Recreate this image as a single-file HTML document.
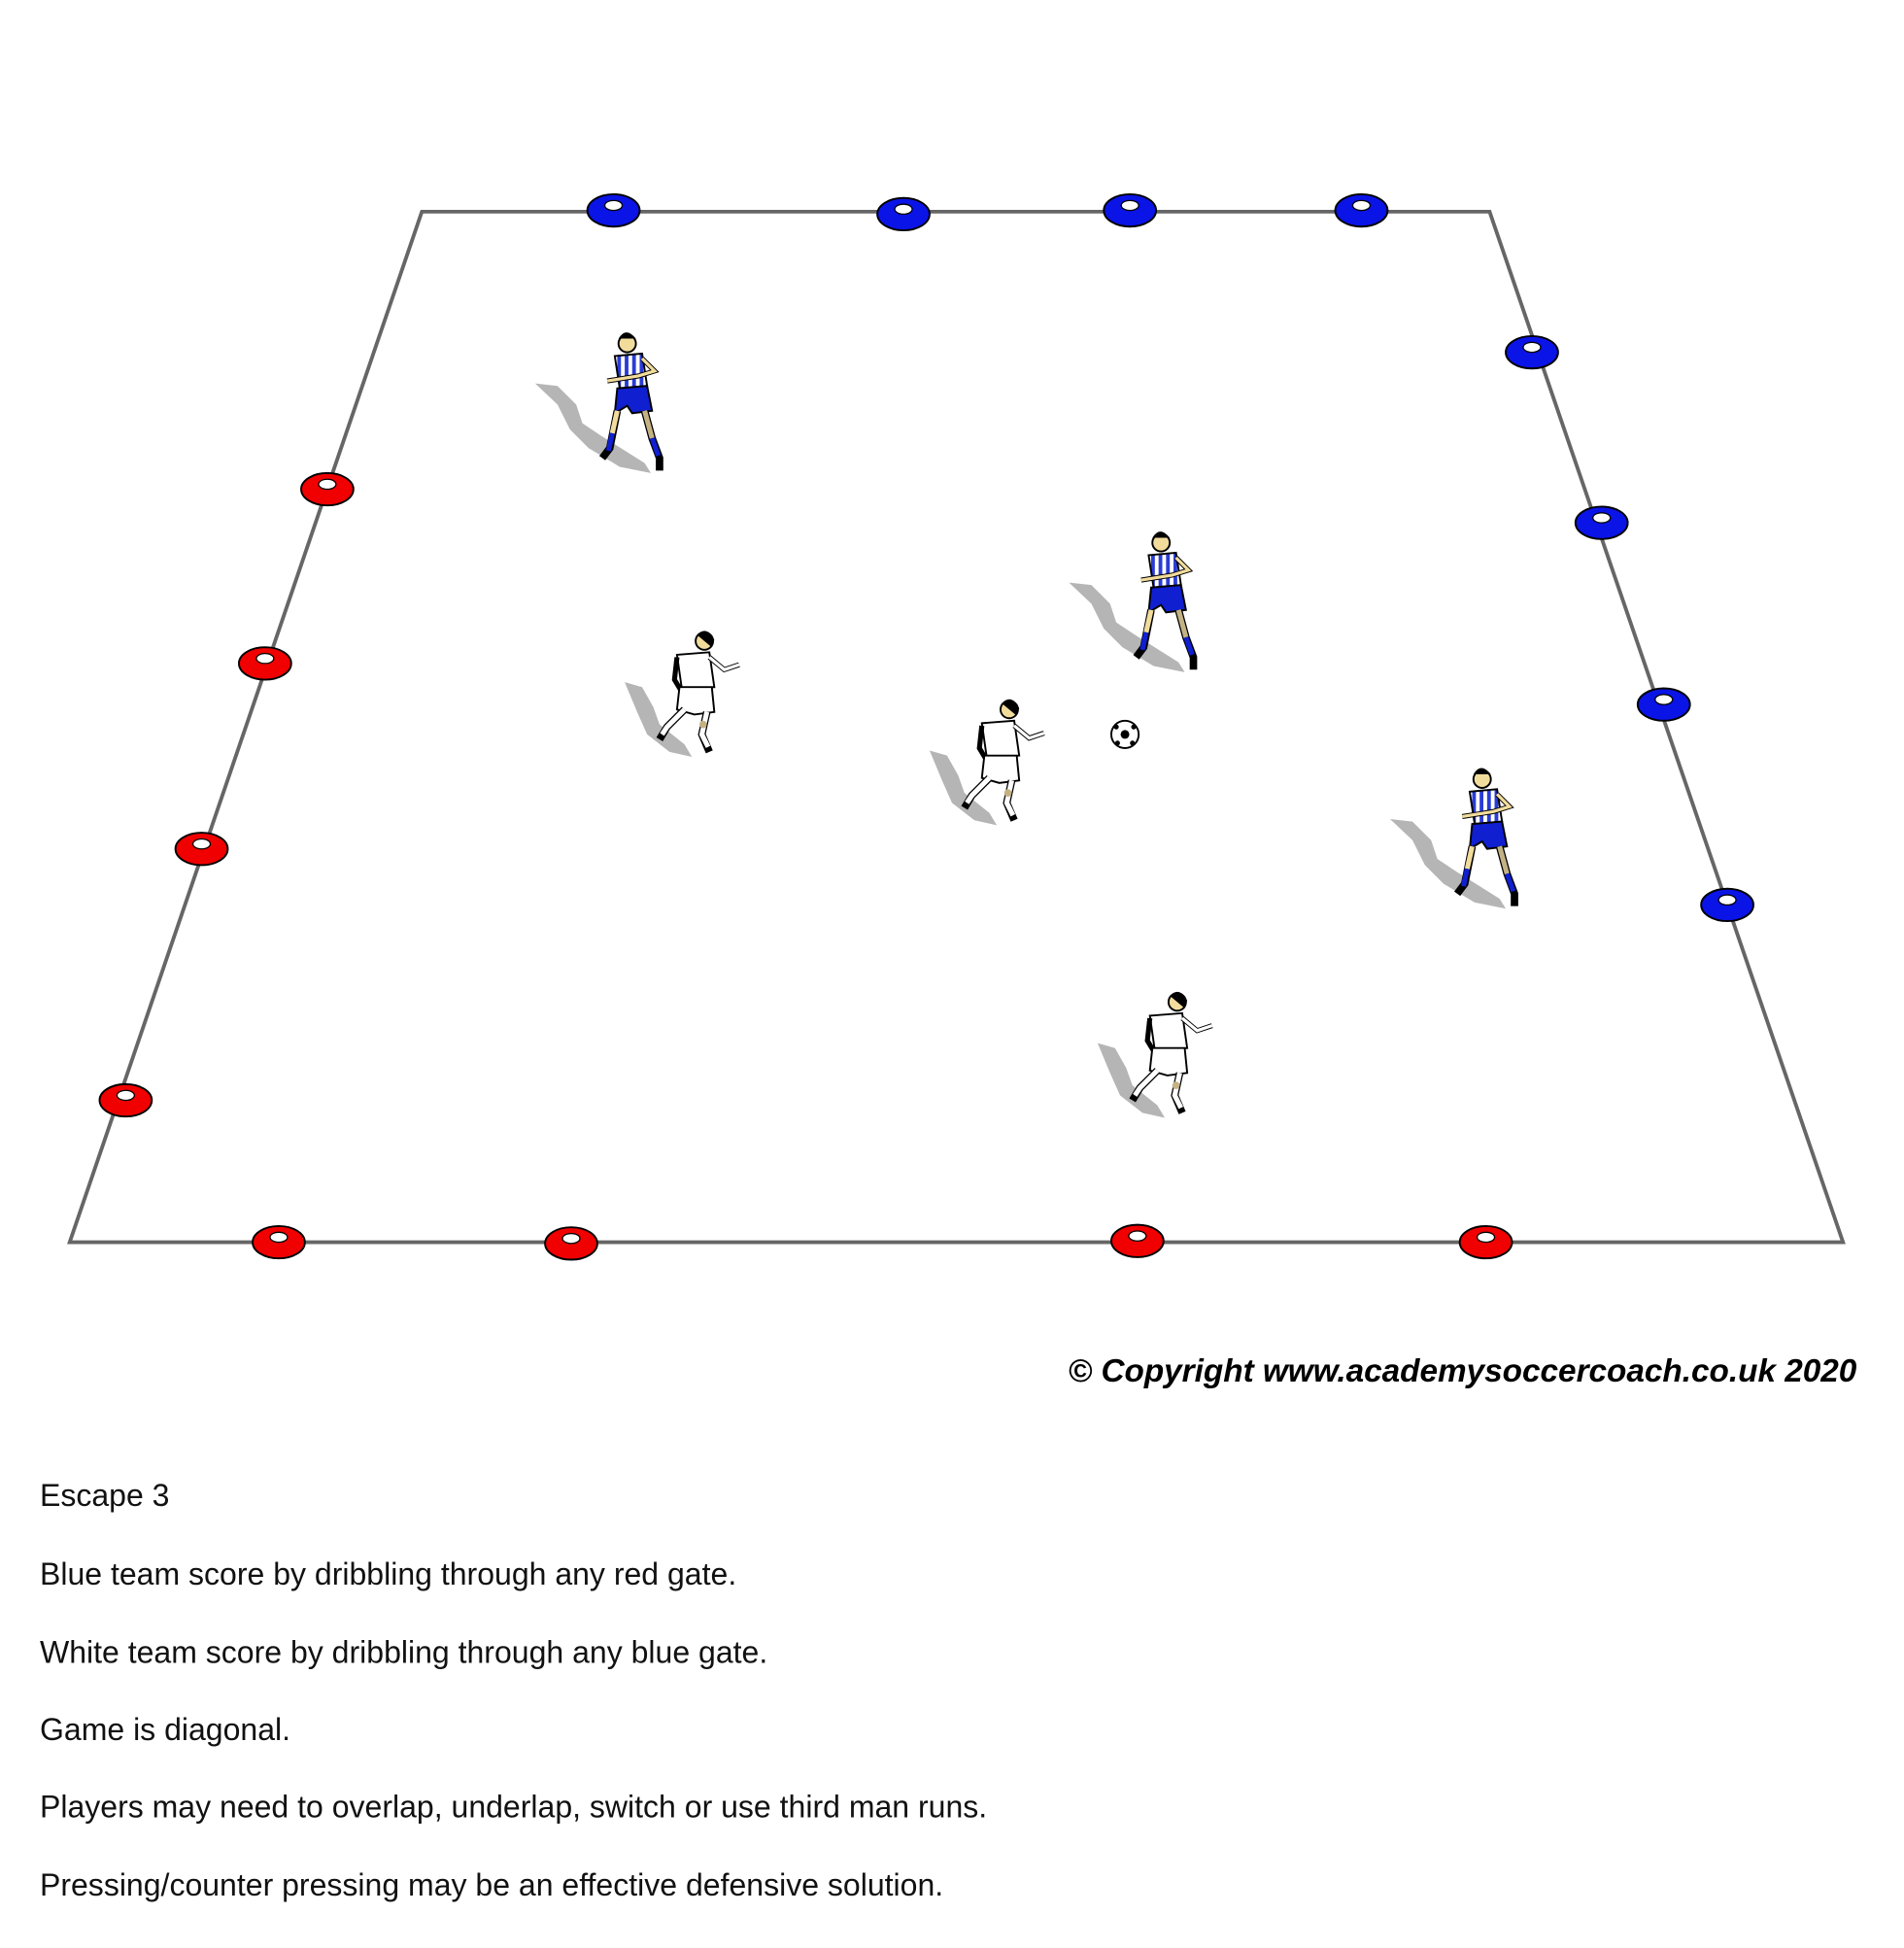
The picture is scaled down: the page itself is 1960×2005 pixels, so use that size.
<!DOCTYPE html>
<html><head><meta charset="utf-8"><style>
html,body{margin:0;padding:0;background:#fff;}
svg{display:block;}
</style></head><body>
<svg width="1960" height="2005" viewBox="0 0 1530 1565" xmlns="http://www.w3.org/2000/svg">
<defs>
<g id="cb"><ellipse cx="0" cy="0" rx="21" ry="13" fill="#0a14e6" stroke="#000" stroke-width="1.5"/><ellipse cx="0" cy="-4" rx="7" ry="4" fill="#fff" stroke="#000" stroke-width="1"/></g>
<g id="cr"><ellipse cx="0" cy="0" rx="21" ry="13" fill="#f00000" stroke="#000" stroke-width="1.5"/><ellipse cx="0" cy="-4" rx="7" ry="4" fill="#fff" stroke="#000" stroke-width="1"/></g>
<pattern id="st" width="6" height="10" patternUnits="userSpaceOnUse"><rect width="6" height="10" fill="#fff"/><rect width="3" height="10" fill="#2a3cd6"/></pattern>
<g id="pb">
<path d="M-78,-12 L-60,-10 L-45,5 L-40,20 L-25,30 L10,52 L15,60 L-10,55 L-35,40 L-50,25 L-60,5 Z" fill="#b5b5b5"/>
<circle cx="-4" cy="-44" r="7" fill="#f2dc9c" stroke="#000" stroke-width="1.5"/>
<path d="M-11,-48 Q-5,-58 3,-48 Z" fill="#000"/>
<path d="M-14,-34 L8,-36 L12,-10 L-10,-8 Z" fill="url(#st)" stroke="#000" stroke-width="1.5"/>
<path d="M8,-32 L18,-22 L5,-18 L-20,-14" fill="none" stroke="#000" stroke-width="4"/>
<path d="M8,-32 L18,-22 L5,-18 L-20,-14" fill="none" stroke="#f2dc9c" stroke-width="2.5"/>
<path d="M-12,-8 L12,-10 L16,10 L0,12 L-4,6 L-14,12 Z" fill="#1020d0" stroke="#000" stroke-width="1.5"/>
<path d="M-12,10 L-18,40 L-24,48" stroke="#000" stroke-width="6" fill="none"/>
<path d="M-12,10 L-16,28" stroke="#f2dc9c" stroke-width="4" fill="none"/>
<path d="M-16,28 L-19,42" stroke="#1020d0" stroke-width="4" fill="none"/>
<path d="M10,10 L16,32 L22,48 L22,58" stroke="#000" stroke-width="6" fill="none"/>
<path d="M10,10 L16,32" stroke="#c4b284" stroke-width="4" fill="none"/>
<path d="M16,32 L21,46" stroke="#1020d0" stroke-width="4" fill="none"/>
</g>
<g id="pw">
<path d="M-58,-12 L-44,-8 L-35,8 L-30,22 L-10,38 L-4,48 L-22,44 L-40,30 L-48,12 Z" fill="#b5b5b5"/>
<circle cx="6" cy="-45" r="7" fill="#f2dc9c" stroke="#000" stroke-width="1.5"/>
<path d="M0,-50 Q8,-58 14,-46 L12,-40 Z" fill="#000"/>
<path d="M-16,-34 L10,-36 L14,-8 L-12,-6 Z" fill="#fff" stroke="#000" stroke-width="1.5"/>
<path d="M10,-32 L22,-22 L34,-26" fill="none" stroke="#000" stroke-width="4"/>
<path d="M10,-32 L22,-22 L34,-26" fill="none" stroke="#fff" stroke-width="2.5"/>
<path d="M-16,-32 L-18,-14 L-12,-4" fill="none" stroke="#000" stroke-width="4"/>
<path d="M-14,-8 L12,-8 L14,12 L-2,14 L-16,10 Z" fill="#fff" stroke="#000" stroke-width="1.5"/>
<path d="M-10,10 L-24,24 L-30,34" stroke="#000" stroke-width="6" fill="none"/>
<path d="M-10,10 L-24,24 L-28,30" stroke="#fff" stroke-width="4" fill="none"/>
<path d="M8,12 L4,30 L10,44" stroke="#000" stroke-width="6" fill="none"/>
<path d="M8,12 L4,30 L9,40" stroke="#fff" stroke-width="4" fill="none"/>
<circle cx="5" cy="22" r="3" fill="#c4b284"/>
</g>
</defs>
<polygon points="339,170 1197,170 1481,998 56,998" fill="none" stroke="#666" stroke-width="3"/>
<use href="#cb" x="493" y="169"/><use href="#cb" x="726" y="172"/><use href="#cb" x="908" y="169"/><use href="#cb" x="1094" y="169"/>
<use href="#cb" x="1231" y="283"/><use href="#cb" x="1287" y="420"/><use href="#cb" x="1337" y="566"/><use href="#cb" x="1388" y="727"/>
<use href="#cr" x="263" y="393"/><use href="#cr" x="213" y="533"/><use href="#cr" x="162" y="682"/><use href="#cr" x="101" y="884"/>
<use href="#cr" x="224" y="998"/><use href="#cr" x="459" y="999"/><use href="#cr" x="914" y="997"/><use href="#cr" x="1194" y="998"/>
<use href="#pb" x="508" y="320"/><use href="#pb" x="937" y="480"/><use href="#pb" x="1195" y="670"/>
<use href="#pw" x="560" y="560"/><use href="#pw" x="805" y="615"/><use href="#pw" x="940" y="850"/>
<circle cx="904" cy="590" r="11" fill="#fff" stroke="#000" stroke-width="1.5"/>
<circle cx="904" cy="590" r="3.5" fill="#000"/><circle cx="897" cy="584" r="2" fill="#000"/><circle cx="911" cy="584" r="2" fill="#000"/><circle cx="898" cy="597" r="2" fill="#000"/><circle cx="910" cy="597" r="2" fill="#000"/>
<g font-family="Liberation Sans, sans-serif">
<text x="1492" y="1110" text-anchor="end" font-size="26" font-weight="bold" font-style="italic" fill="#000">© Copyright www.academysoccercoach.co.uk 2020</text>
<g font-size="25" fill="#111">
<text x="32" y="1210">Escape 3</text>
<text x="32" y="1273">Blue team score by dribbling through any red gate.</text>
<text x="32" y="1336">White team score by dribbling through any blue gate.</text>
<text x="32" y="1398">Game is diagonal.</text>
<text x="32" y="1460">Players may need to overlap, underlap, switch or use third man runs.</text>
<text x="32" y="1523">Pressing/counter pressing may be an effective defensive solution.</text>
</g></g>
</svg>
</body></html>
